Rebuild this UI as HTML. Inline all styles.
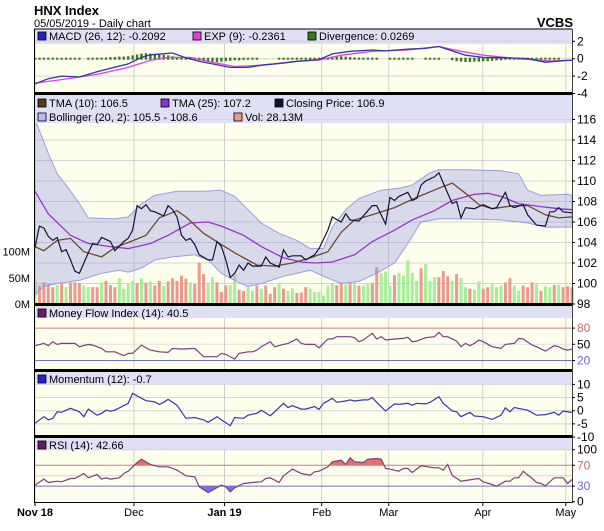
<!DOCTYPE html>
<html><head><meta charset="utf-8">
<style>
html,body{margin:0;padding:0;background:#fff;}
svg{display:block;font-family:"Liberation Sans",Arial,sans-serif;}
</style></head>
<body>
<svg id="chart" width="604" height="531" viewBox="0 0 604 531" xmlns="http://www.w3.org/2000/svg">
  <text x="34" y="15" font-size="13" font-weight="bold" fill="#000">HNX Index</text>
  <text x="34" y="27" font-size="11" fill="#000">05/05/2019 - Daily chart</text>
  <text x="573" y="27" font-size="13" font-weight="bold" text-anchor="end" fill="#000">VCBS</text>
  <g id="bg"></g>
  <g id="grid"></g>
  <g id="marks"></g>
  <g id="frame"></g>
  <g id="labels"></g>
</svg>
<script>
// ---------- data ----------
const monthDays = [0, 22.3, 42.7, 64.6, 79.7, 100.9, 119.6];
const monthLabels = ["Nov 18", "Dec", "Jan 19", "Feb", "Mar", "Apr", "May"];
const monthBold = [true, false, true, false, false, false, false];

const closeDays = [0,1,2,3,4,5,6,7,8,9,10,12,13,14,15,17,18,20,21,22,23,24,25,26,27,29,30,31,32,33,34,35,36,37,39,40,41,42,43,44,45,46,47,48,49,51,52,53,55,56,57,58,60,61,63,64,66,67,69,70,71,73,75,76,77,79,80,81,82,84,85,86,87,88,90,91,92,94,95,96,97,99,101,103,104,106,107,108,110,111,113,115,116,117,118,119,121];
const closeVals = [103.5,105.6,105.4,104.6,104.2,104.5,103.1,103.3,102.3,101.2,101.0,103.0,103.9,103.8,104.5,104.1,103.2,104.1,104.4,105.2,107.6,107.3,107.7,107.1,107.0,106.6,107.6,107.2,106.5,104.7,104.2,104.4,103.8,102.8,102.3,102.3,104.1,103.6,102.3,100.6,101.0,101.8,101.3,102.0,101.7,101.7,102.6,102.0,101.6,103.3,102.6,102.7,102.7,102.3,102.8,103.4,105.2,106.5,106.0,106.8,106.2,106.1,107.1,107.6,107.6,105.8,108.4,108.1,108.5,108.9,108.1,108.3,109.6,110.0,110.4,110.8,109.8,107.8,108.0,106.4,107.4,107.3,107.7,107.3,107.4,108.9,107.6,107.4,107.7,106.7,105.7,105.6,107.0,107.0,107.4,107.0,106.9];

const tma10Days = [0,2,5,8,11,15,18,21,25,28,32,34,38,42,45,50,54,58,62,64,66,69,72,76,81,86,91,94,97,100,103,108,111,115,118,121];
const tma10Vals = [103.6,103.2,104.2,104.4,103.1,102.6,103.5,104.0,104.7,106.4,107.1,106.5,104.9,103.8,103.0,101.8,101.7,102.0,102.5,102.8,103.1,105.0,106.2,106.7,107.4,108.4,109.3,109.8,108.8,107.7,107.3,107.6,107.6,106.7,106.4,106.5];

const tma25Days = [0,3,8,12,17,21,26,30,35,39,42,47,51,56,60,63,67,72,76,81,85,90,94,99,102,105,109,114,118,121];
const tma25Vals = [109.0,106.8,104.7,103.9,103.6,103.4,103.9,104.7,105.9,106.0,105.6,104.7,103.6,102.5,102.1,102.0,102.1,102.8,104.1,105.2,106.2,107.1,108.1,108.7,108.8,108.5,107.8,107.5,107.3,107.2];

const bollUpDays = [0,3,5,7,10,12,18,21,24,27,32,38,42,45,48,51,55,59,62,65,67,70,73,78,82,85,89,91,97,105,109,111,114,120,121];
const bollUpVals = [116.0,112.7,110.7,109.6,107.8,106.4,106.3,106.5,107.8,108.6,109.0,109.0,109.1,108.5,107.2,105.9,104.9,104.2,103.4,103.4,105.5,107.2,108.3,109.1,109.3,109.6,110.8,111.1,111.1,111.0,110.7,109.1,108.6,108.7,108.6];
const bollLoDays = [0,2,5,10,15,19,21,24,27,31,36,39,42,45,48,51,56,60,62,65,69,73,77,81,84,87,91,97,105,111,115,121];
const bollLoVals = [98.9,99.7,100.0,100.3,101.0,101.3,101.1,101.5,102.3,102.6,102.8,102.3,101.0,100.3,99.7,100.0,100.7,101.1,101.3,100.7,100.0,100.2,101.0,102.0,103.9,106.0,106.3,106.3,106.2,105.9,105.5,105.5];

const volumes = [41,35,41,38,32,36,41,32,41,41,40,35,32,32,32,41,44,36,32,49,29,38,44,40,49,40,43,35,44,35,43,49,44,54,48,41,38,79,57,40,51,41,23,35,36,55,27,25,32,25,35,29,35,19,32,40,29,25,30,21,
22,32,29,23,23,16,35,39,36,41,37,41,41,35,35,38,40,70,59,62,35,55,59,54,83,59,44,68,76,44,51,51,63,53,44,57,49,32,29,27,43,29,32,40,32,35,41,49,35,25,35,32,41,38,25,34,32,36,36,32,34,32];
const volUp = "grrrrgrgrrrggrrgrrrggggrgrgrrgrrrrrgrrrggrrrggrrggrgrrrgrggr"+"rrggggggrrgrgrggrrgggrgggggrgggrrrgrggrggrrgggrrggrrrgrggrgrr";

const macdDays = [0,3,6,10,14,17,21,24,26,31,34,37,40,44,48,51,56,59,64,67,71,76,79,84,88,91,94,97,101,106,111,115,120,121];
const macdVals = [-2.9,-2.3,-2.0,-2.1,-1.5,-1.1,-0.6,0.15,0.45,0.65,0.1,-0.3,-0.6,-1.0,-1.0,-0.75,-0.5,-0.3,-0.1,0.55,0.85,1.0,0.9,1.1,1.2,1.4,0.9,0.4,0.15,0.1,0.0,-0.4,-0.2,-0.2];
const expDays = [0,6,14,21,26,30,35,40,45,51,59,64,69,76,84,91,96,101,109,116,121];
const expVals = [-2.8,-2.4,-1.8,-1.0,-0.2,0.15,0.15,-0.4,-0.9,-0.75,-0.3,-0.15,0.4,0.85,1.0,1.4,0.85,0.4,0.0,-0.25,-0.2];
const divergence = [0.05,0.1,0.1,0.1,0.1,0.1,0.15,0.1,0.1,0.1,0.05,null,
0.1,0.15,0.2,0.25,0.25,0.3,0.3,0.35,0.35,0.4,
0.5,0.6,0.7,0.75,0.7,0.65,0.6,0.55,0.5,
0.4,0.3,0.2,0.1,
-0.1,-0.2,-0.3,-0.35,-0.4,-0.45,-0.5,-0.45,-0.4,-0.35,-0.3,-0.3,-0.25,-0.2,-0.2,-0.15,
null,null,null,null,
0.05,0.05,0.1,0.1,0.05,0.05,0.05,0.05,0.05,0.05,
0.15,0.25,0.35,0.4,0.4,0.35,0.3,
0.25,0.2,0.2,0.15,0.15,0.1,
null,null,
0.05,0.05,0.05,0.05,0.05,0.05,
null,null,
0.05,0.05,0.05,0.05,
null,null,
-0.3,-0.4,-0.45,-0.5,-0.5,-0.45,-0.45,-0.4,-0.4,-0.35,-0.3,-0.3,
-0.2,-0.15,-0.1,-0.1,-0.1,-0.15,-0.2,-0.25,-0.2,-0.15,-0.1,-0.05,-0.05,
null,null,null];

const mfiDays = [0,2,3,4,5,6,9,10,12,13,15,16,18,20,21,22,24,25,26,28,30,31,33,36,38,41,42,43,45,46,48,49,50,51,53,54,56,57,59,60,61,63,64,66,67,68,71,72,73,74,76,77,78,79,81,83,84,85,86,88,90,91,92,93,95,96,97,98,99,100,101,103,105,106,108,109,110,112,113,115,117,118,119,120,121];
const mfiVals = [47.4,51.7,47.4,54.8,49.8,51.7,51.7,45.5,49.8,48.6,42.4,36.2,36.2,28.8,33.1,33.1,48.6,43.6,39.3,36.2,35.0,42.4,41.2,42.4,27,27,33.1,31.3,22.6,33.1,36.2,36.2,39.3,45.5,54.8,45.5,49.8,51.7,59.8,51.7,49.8,49.8,43.6,59.8,59.8,64.1,64.1,62.2,54.8,58,70.3,59.8,64.1,58,59.8,61,62.9,54.8,56,62.2,64.1,72.2,64.1,64.1,56,45.5,51.7,47.4,51.7,58,54.8,45.5,42.4,49.8,51.7,61,59.8,48.6,45.5,37.4,47.4,45.5,41.2,39.3,41.2];

const momDays = [0,2,3,4,5,6,8,10,11,12,14,15,16,17,18,21,22,24,25,27,28,29,30,32,34,36,38,39,41,42,44,45,47,48,50,51,53,54,56,57,58,60,61,63,64,65,67,68,70,71,72,74,75,76,77,79,81,82,84,85,86,88,89,91,92,94,95,96,98,99,101,103,105,106,107,108,111,113,115,117,118,119,121];
const momVals = [-4.8,-2.3,-3.5,-2.9,-0.4,-0.6,0.9,-0.4,-2.3,0.6,-1.7,-1.0,0.2,-0.2,0.2,2.8,6.6,4.7,3.8,3.4,2.4,3.2,4.3,2.1,-2.9,-2.6,-3.5,-4.4,-2.3,-3.5,-5.7,-2.6,-2.9,-1.7,-1.0,0.2,-1.9,-0.4,2.8,1.2,1.9,0.6,0.6,1.6,0.5,2.8,4.7,3.2,3.7,4.1,3.7,4.1,4.1,5.0,3.2,-0.1,2.6,2.4,2.8,2.1,2.8,2.6,3.2,5.3,2.8,-0.1,-0.4,-2.3,-0.6,-2.0,-2.3,-3.3,-1.7,1.1,-0.4,1.2,0.2,-1.7,-1.5,-0.6,-1.7,-0.1,-0.7];

const rsiDays = [0,2,3,5,6,8,9,11,12,14,15,16,17,19,20,21,23,24,26,28,30,32,34,36,37,39,40,42,43,44,45,47,49,51,52,53,55,56,58,60,62,63,64,66,67,69,70,71,72,74,75,77,78,79,80,82,83,84,85,87,90,91,92,93,94,96,99,100,101,103,104,106,107,108,109,110,112,113,114,115,117,119,120,121];
const rsiVals = [32,43.4,37,39.5,38.2,44.6,44.6,54.2,45.9,52.3,43.4,45.9,43.4,45.9,54.2,58.7,75.4,81.8,71.6,67.1,67.1,60.7,49.8,47.8,28.6,17.7,22.2,31.9,28.6,19,26.7,35,37,38.2,44.6,45.9,37,49.8,62.7,54.2,51,57.5,58.7,67.1,76.7,79.9,71.6,84.5,76.7,75.4,81.8,83.1,81.8,63.8,62.5,58.7,63.8,63.8,56.1,69,65.1,65.1,60.7,71.6,51,39.5,43.4,44.6,38.2,33.1,29.9,39.5,39.5,45.9,45.9,58.7,44.6,37,35,30.5,45.9,45.9,35,42.66];

// ---------- scales ----------
const PL = 34, PR = 572, DMAX = 121;
const X = d => 35 + d * (537 / DMAX);
const yMacd = v => 58.7 - 8.7 * v;
const yPrice = p => 304 - (p - 98) * 10.25;
const yVol = m => 304 - 0.525 * m;
const yMfi = v => 371.3 - 0.54 * v;
const yMom = v => 410.7 - 2.63 * v;
const yRsi = v => 501.7 - 0.52 * v;

const NS = "http://www.w3.org/2000/svg";
function mk(parent, tag, attrs) {
  const el = document.createElementNS(NS, tag);
  for (const k in attrs) el.setAttribute(k, attrs[k]);
  document.getElementById(parent).appendChild(el);
  return el;
}
function pts(days, vals, yf) {
  return days.map((d, i) => X(d).toFixed(1) + "," + yf(vals[i]).toFixed(1)).join(" ");
}

// ---------- panel backgrounds ----------
const panels = [
  {name:"macd", top:29, head:44, bottom:93},
  {name:"price", top:94, head:123, bottom:304},
  {name:"mfi", top:305, head:318, bottom:370},
  {name:"momentum", top:371, head:384, bottom:436},
  {name:"rsi", top:437, head:450, bottom:502}
];
panels.forEach(p => {
  let r = mk("bg", "rect", {x:PL, y:p.top, width:PR-PL, height:p.bottom-p.top, fill:"#fefeec"});
  
  
  let h = mk("bg", "rect", {x:PL, y:p.top, width:PR-PL, height:p.head-p.top, fill:"#dfe0f5"});
  
  
});

// ---------- grid ----------
function hgrid(y, color, name) {
  const l = mk("grid", "line", {x1:PL, x2:PR, y1:y, y2:y, stroke:color, "stroke-width":1});
  
  
}
[2,0,-2].forEach(v => hgrid(yMacd(v), "#d4d4d4", "macd-gridline"));
[116,114,112,110,108,106,104,102,100].forEach(v => hgrid(yPrice(v), "#d4d4d4", "price-gridline"));
hgrid(yMfi(50), "#e0e0e0", "mfi-gridline");
[10,5,0,-5].forEach(v => hgrid(yMom(v), "#d4d4d4", "momentum-gridline"));
[100,50].forEach(v => hgrid(yRsi(v), "#d4d4d4", "rsi-gridline"));
monthDays.forEach((d, i) => {
  panels.forEach(p => {
    const l = mk("grid", "line", {x1:X(d), x2:X(d), y1:p.head, y2:p.bottom, stroke:"#d0d0d0", "stroke-width":1});
    
    
  });
});

// ---------- MACD ----------
divergence.forEach((v, i) => {
  if (v === null) return;
  const y0 = yMacd(0), y1 = yMacd(v);
  let top, h = Math.max(2, Math.abs(y1 - y0));
  if (v > 0) top = y0 - h + 1; else top = y0 - 1;
  const b = mk("marks", "rect", {x:X(i) - 1.2, y:top, width:2.4, height:h, fill:"#3b7a1e"});
  
  
});
let l1 = mk("marks", "polyline", {points:pts(expDays, expVals, yMacd), fill:"none", stroke:"#dd44dd", "stroke-width":1.3});


let l2 = mk("marks", "polyline", {points:pts(macdDays, macdVals, yMacd), fill:"none", stroke:"#3333aa", "stroke-width":1.3});



// ---------- price panel ----------
mk("marks", "clipPath", {id:"priceClip"});
mk("priceClip", "rect", {x:PL, y:123, width:PR-PL, height:181});
volumes.forEach((v, i) => {
  const x = 35 + i * (537 / (volumes.length - 1));
  const b = mk("marks", "rect", {x:x - 1.5, y:yVol(v), width:3, height:304 - yVol(v), fill: volUp[i] === "g" ? "#a6ee98" : "#e89a8e"});
  
  
});
const bandPts = pts(bollUpDays, bollUpVals, yPrice) + " " +
  bollLoDays.map((d, i) => X(d).toFixed(1) + "," + yPrice(bollLoVals[i]).toFixed(1)).reverse().join(" ");
const band = mk("marks", "polygon", {points:bandPts, fill:"rgba(130,135,230,0.3)", stroke:"#9a9ce0", "stroke-width":1, "clip-path":"url(#priceClip)"});


let t25 = mk("marks", "polyline", {points:pts(tma25Days, tma25Vals, yPrice), fill:"none", stroke:"#9933cc", "stroke-width":1.3, "clip-path":"url(#priceClip)"});


let t10 = mk("marks", "polyline", {points:pts(tma10Days, tma10Vals, yPrice), fill:"none", stroke:"#6b4a2e", "stroke-width":1.3});


let cl = mk("marks", "polyline", {points:pts(closeDays, closeVals, yPrice), fill:"none", stroke:"#141438", "stroke-width":1.2});



// ---------- MFI ----------
let m80 = mk("marks", "line", {x1:PL, x2:PR, y1:yMfi(80), y2:yMfi(80), stroke:"#d08080"});


let m20 = mk("marks", "line", {x1:PL, x2:PR, y1:yMfi(20), y2:yMfi(20), stroke:"#7070c0"});


let mfl = mk("marks", "polyline", {points:pts(mfiDays, mfiVals, yMfi), fill:"none", stroke:"#7a3f80", "stroke-width":1.2});



// ---------- Momentum ----------
let mol = mk("marks", "polyline", {points:pts(momDays, momVals, yMom), fill:"none", stroke:"#3535b5", "stroke-width":1.2});



// ---------- RSI ----------
mk("marks", "clipPath", {id:"rsiHi"});
mk("rsiHi", "rect", {x:PL, y:0, width:PR-PL, height:yRsi(70)});
mk("marks", "clipPath", {id:"rsiLo"});
mk("rsiLo", "rect", {x:PL, y:yRsi(30), width:PR-PL, height:100});
const rp = pts(rsiDays, rsiVals, yRsi);
const first = X(rsiDays[0]).toFixed(1), last = X(rsiDays[rsiDays.length-1]).toFixed(1);
let rh = mk("marks", "polygon", {points:first + "," + yRsi(70) + " " + rp + " " + last + "," + yRsi(70), fill:"#ee6a6a", "clip-path":"url(#rsiHi)"});


let rl = mk("marks", "polygon", {points:first + "," + yRsi(30) + " " + rp + " " + last + "," + yRsi(30), fill:"#7a70ee", "clip-path":"url(#rsiLo)"});


let r70 = mk("marks", "line", {x1:PL, x2:PR, y1:yRsi(70), y2:yRsi(70), stroke:"#d08080"});


let r30 = mk("marks", "line", {x1:PL, x2:PR, y1:yRsi(30), y2:yRsi(30), stroke:"#7070c0"});


let rsl = mk("marks", "polyline", {points:rp, fill:"none", stroke:"#7a3f80", "stroke-width":1.2});



// ---------- frame ----------
[[29,1],[93.5,3],[304.5,3],[370.5,3],[436.5,3]].forEach(s => {
  const l = mk("frame", "line", {x1:PL, x2:PR, y1:s[0], y2:s[0], stroke:"#000", "stroke-width":s[1]});
  
  
});
let lb = mk("frame", "line", {x1:PL+0.5, x2:PL+0.5, y1:29, y2:503, stroke:"#000", "stroke-width":1});


let rb = mk("frame", "line", {x1:PR+0.5, x2:PR+0.5, y1:29, y2:503, stroke:"#444", "stroke-width":1});


let bb = mk("frame", "line", {x1:PL, x2:PR, y1:502.5, y2:502.5, stroke:"#000", "stroke-width":1});



// ---------- axis labels ----------
function rlabel(txt, y, color, name) {
  const t = mk("labels", "text", {x:577, y:y + 4, "font-size":12, fill:color || "#000"});
  t.textContent = txt;
  
  
  const k = mk("labels", "line", {x1:PR, x2:PR+3, y1:y, y2:y, stroke:"#000"});
  
  
}
[2,0,-2,-4].forEach(v => rlabel(String(v), yMacd(v), "#000", "macd-axis-label"));
[116,114,112,110,108,106,104,102,100,98].forEach(v => rlabel(String(v), yPrice(v), "#000", "price-axis-label"));
rlabel("80", yMfi(80), "#c86a6a", "mfi-axis-label");
rlabel("50", yMfi(50), "#000", "mfi-axis-label");
rlabel("20", yMfi(20), "#6a6ac8", "mfi-axis-label");
[10,5,0,-5,-10].forEach(v => rlabel(String(v), yMom(v), "#000", "momentum-axis-label"));
rlabel("100", yRsi(100), "#000", "rsi-axis-label");
rlabel("70", yRsi(70), "#c86a6a", "rsi-axis-label");
rlabel("30", yRsi(30), "#6a6ac8", "rsi-axis-label");
rlabel("0", yRsi(0), "#000", "rsi-axis-label");
[[100,"100M"],[50,"50M"],[0,"0M"]].forEach(v => {
  const t = mk("labels", "text", {x:30, y:yVol(v[0]) + 4, "font-size":11, "text-anchor":"end", fill:"#000"});
  t.textContent = v[1];
  
  
});
monthDays.forEach((d, i) => {
  const t = mk("labels", "text", {x:X(d), y:516, "font-size":11, "text-anchor":"middle", "font-weight": monthBold[i] ? "bold" : "normal", fill:"#000"});
  t.textContent = monthLabels[i];
  
  
  const k = mk("labels", "line", {x1:X(d), x2:X(d), y1:503, y2:506, stroke:"#000"});
  
  
});

// ---------- legends ----------
function legend(x, y, color, txt, name) {
  const s = mk("labels", "rect", {x:x, y:y - 8, width:8, height:8, fill:color, stroke:"#000", "stroke-width":0.8});
  
  
  const t = mk("labels", "text", {x:x + 11, y:y, "font-size":11, fill:"#000"});
  t.textContent = txt;
  
  
}
legend(38, 40, "#2222cc", "MACD (26, 12): -0.2092", "macd");
legend(193, 40, "#dd44dd", "EXP (9): -0.2361", "exp");
legend(308, 40, "#2f7a1e", "Divergence: 0.0269", "divergence");
legend(38, 107, "#5a3a10", "TMA (10): 106.5", "tma10");
legend(161, 107, "#8833dd", "TMA (25): 107.2", "tma25");
legend(275, 107, "#111133", "Closing Price: 106.9", "closing-price");
legend(38, 121, "#b8bcf0", "Bollinger (20, 2): 105.5 - 108.6", "bollinger");
legend(234, 121, "#e89a8e", "Vol: 28.13M", "volume");
legend(38, 317, "#6a1a6a", "Money Flow Index (14): 40.5", "mfi");
legend(38, 383, "#2222cc", "Momentum (12): -0.7", "momentum");
legend(38, 449, "#6a1a6a", "RSI (14): 42.66", "rsi");
</script>
</body></html>
